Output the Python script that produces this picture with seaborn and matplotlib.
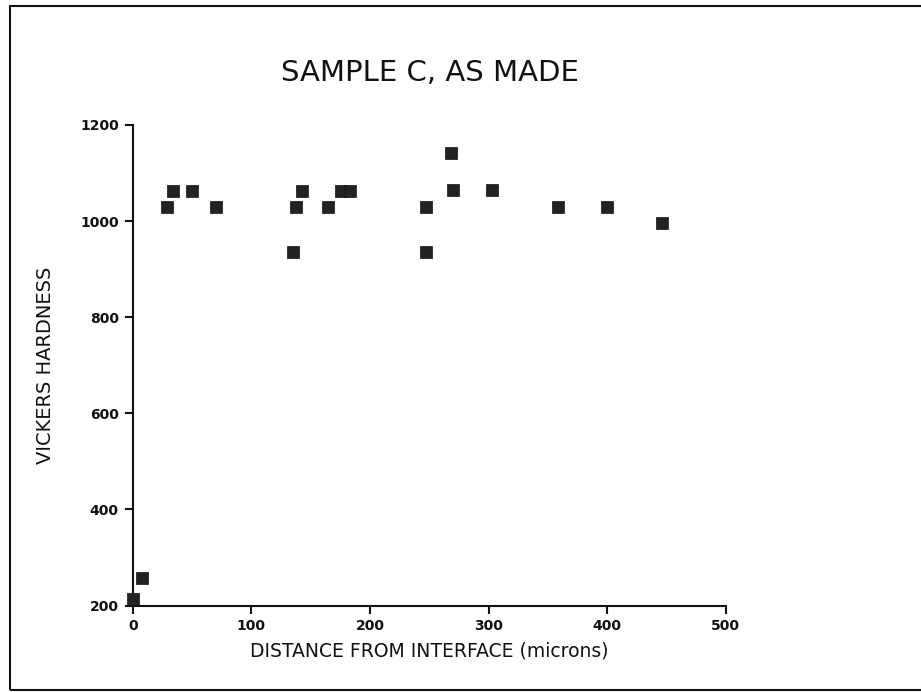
import matplotlib
matplotlib.use("Agg")
import matplotlib.pyplot as plt
import seaborn as sns
import pandas as pd
from matplotlib.patches import Rectangle

# Data
distance_microns = [0, 8, 29, 34, 50, 70, 135, 138, 143, 165, 176, 183,
                    247, 247, 268, 270, 303, 359, 400, 446]
vickers_hardness = [213, 258, 1029, 1063, 1063, 1029, 936, 1029, 1063, 1029, 1063, 1063,
                    1029, 936, 1141, 1065, 1065, 1029, 1029, 997]
x_ticks = [0, 100, 200, 300, 400, 500]
y_ticks = [200, 400, 600, 800, 1000, 1200]

sns.set_theme(style="ticks")
plt.rcParams['font.family'] = ['DejaVu Sans']
plt.rcParams['xtick.major.size'] = 6
plt.rcParams['ytick.major.size'] = 6
plt.rcParams['xtick.major.width'] = 1.5
plt.rcParams['ytick.major.width'] = 1.5
plt.rcParams['xtick.major.pad'] = 4
plt.rcParams['ytick.major.pad'] = 4
plt.rcParams['xtick.color'] = "#111111"
plt.rcParams['ytick.color'] = "#111111"

df = pd.DataFrame({"x": distance_microns, "y": vickers_hardness})

fig = plt.figure(figsize=(9.21, 6.92), dpi=100)
ax = fig.add_axes([132.7 / 921, 86.5 / 692, 593 / 921, 480.5 / 692])

sns.scatterplot(data=df, x="x", y="y", marker="s", s=64, color="#222222",
                edgecolor="#111111", linewidth=0.5, ax=ax, clip_on=False, zorder=3)

ax.set_xlim(0, 500)
ax.set_ylim(200, 1200)
ax.set_xticks(x_ticks)
ax.set_yticks(y_ticks)
ax.set_xticklabels([str(v) for v in x_ticks], fontsize=10, fontweight="bold")
ax.set_yticklabels([str(v) for v in y_ticks], fontsize=10, fontweight="bold")
for side in ["top", "right"]:
    ax.spines[side].set_visible(False)
for side in ["left", "bottom"]:
    ax.spines[side].set_linewidth(1.5)
    ax.spines[side].set_color("#111111")

ax.set_xlabel("DISTANCE FROM INTERFACE (microns)", fontsize=13.5, color="#111111", labelpad=6)
ax.set_ylabel("VICKERS HARDNESS", fontsize=14, color="#111111", labelpad=18)

fig.text(430 / 921, 1 - 73 / 692, "SAMPLE C, AS MADE", ha="center", va="center",
         fontsize=21, color="#111111")

fig.patches.append(Rectangle((10 / 921, 2 / 692), 1.0, 684 / 692,
                             transform=fig.transFigure, fill=False,
                             edgecolor="#111111", linewidth=1.5))

fig.savefig("out.png", dpi=100, facecolor="white")
